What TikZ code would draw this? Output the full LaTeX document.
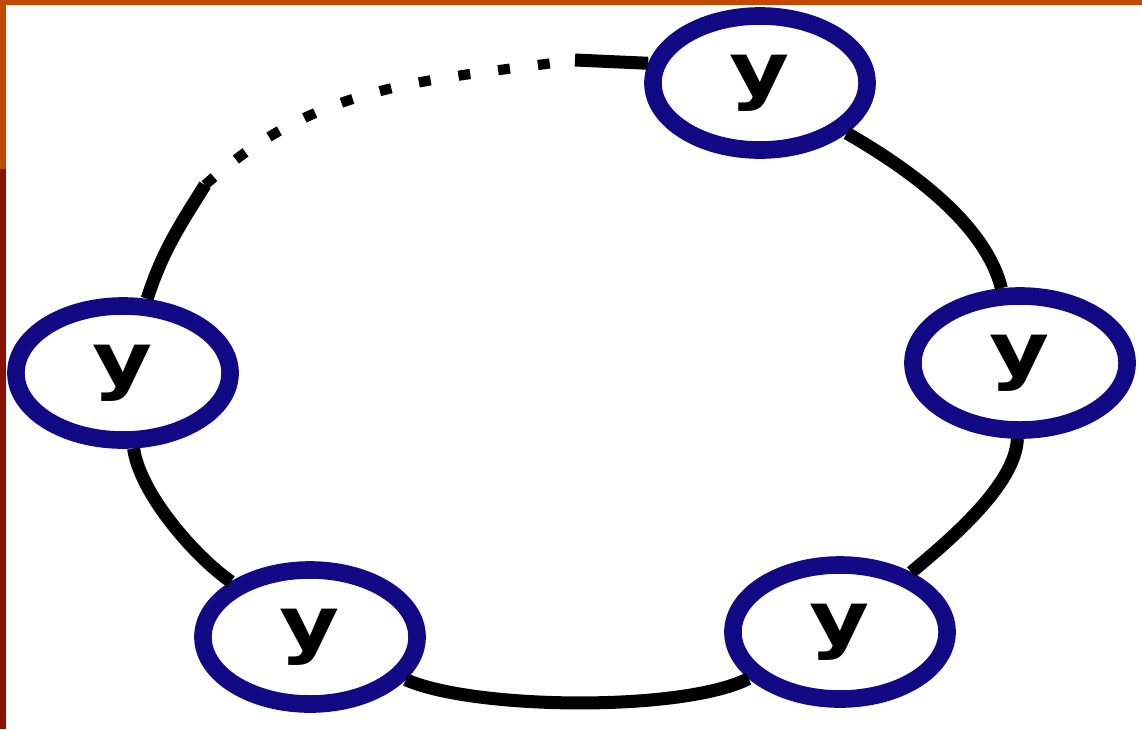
\documentclass[tikz,border=0pt]{standalone}
\usepackage{fontspec}
\setmainfont{DejaVu Sans}
\usepackage{xcolor}
\usepackage{tikz}
\usetikzlibrary{arrows.meta, positioning, shapes.geometric}
\definecolor{ringblue}{RGB}{18,10,132}
\definecolor{frameorange}{RGB}{196,74,0}
\definecolor{framered}{RGB}{138,16,0}
\newcommand{\yy}{\scalebox{1.25}[1]{\bfseries y}}
\tikzset{
  ynode/.style={draw=ringblue, ellipse, line width=5pt, fill=white, inner sep=0pt,
    minimum width=2.14cm, minimum height=1.34cm, font=\fontsize{21}{21}\selectfont},
  link/.style={line width=3.7pt, black},
  dotlink/.style={line width=2.9pt, black, dash pattern=on 3.4pt off 8pt},
  every node/.style={font=\small}
}

\begin{document}
\begin{tikzpicture}[x=0.01cm, y=0.01cm]
    % slide frame behind the pasted figure
    \fill[frameorange] (0,0) rectangle (1142,729);
    \fill[framered] (0,0) rectangle (6,560);
    \fill[white] (6,0) rectangle (1142,724);
    \useasboundingbox (0,0) rectangle (1142,729);

    \node[ynode] (top) at (760,646) {\yy};
    \node[ynode] (right) at (1020,366) {\yy};
    \node[ynode] (br) at (840,97) {\yy};
    \node[ynode] (bl) at (310,92) {\yy};
    \node[ynode] (left) at (123,356) {\yy};
    \coordinate (gapA) at (205,544);
    \coordinate (gapB) at (575,669);

    \draw[link] (top) to[out=-30, in=104, looseness=0.8] (right);
    \draw[link] (right) to[out=-92, in=40, looseness=0.7] (br);
    \draw[link] (br) to[out=207, in=-24, looseness=0.55] (bl);
    \draw[link] (bl) to[out=145, in=-82, looseness=0.7] (left);
    \draw[link] (left) to[out=72, in=238] (gapA);
    \draw[dotlink] (gapA) to[out=42, in=188] (gapB);
    \draw[link] (gapB) -- (top.170);
\end{tikzpicture}
\end{document}
